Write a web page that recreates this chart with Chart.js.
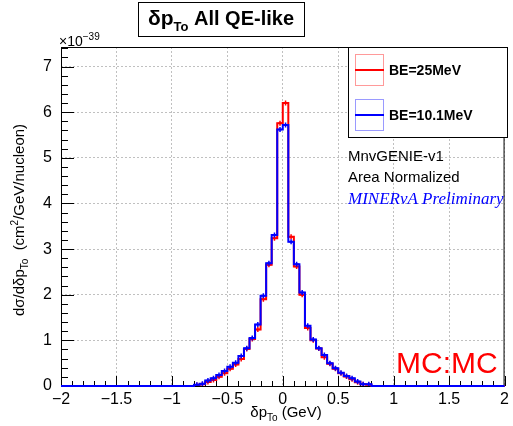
<!DOCTYPE html>
<html><head><meta charset="utf-8">
<script src="https://cdn.jsdelivr.net/npm/chart.js@4/dist/chart.umd.min.js"></script>
<style>html,body{margin:0;padding:0;background:#fff}#wrap{width:513px;height:426px;position:relative}</style>
</head><body><div id="wrap"><canvas id="c" width="513" height="426"></canvas></div>
<script>
// ---- data (area-normalized cross-section, units of 1e-39 cm^2/GeV/nucleon) ----
const binLow = -2, binWidth = 0.05, nBins = 80;
const xTicks = [-2, -1.5, -1, -0.5, 0, 0.5, 1, 1.5, 2];
const yTicks = [0, 1, 2, 3, 4, 5, 6, 7];
const seriesNames = ['BE=25MeV', 'BE=10.1MeV'];
const be25 = [
  0,0,0,0,0,0,0,0,0,0, 0,0,0,0,0,0,0,0,0,0, 0,0,0,0,
  0.02,0.04,0.09,0.13,0.20,0.28,0.38,0.47,0.59,0.81,1.03,1.24,1.90,2.66,3.24,5.76,
  6.20,3.27,2.62,2.00,1.27,1.00,0.82,0.63,0.49,0.38,0.28,0.21,0.15,0.08,0.04,0.03,
  0,0,0,0,0,0,0,0,0,0, 0,0,0,0,0,0,0,0,0,0, 0,0,0,0
];
const be101 = [
  0,0,0,0,0,0,0,0,0,0, 0,0,0,0,0,0,0,0,0,0, 0,0,0,0,
  0.03,0.05,0.12,0.17,0.24,0.33,0.42,0.51,0.66,0.83,1.05,1.35,1.98,2.69,3.31,5.62,
  5.72,3.16,2.67,2.05,1.32,1.02,0.83,0.68,0.50,0.39,0.29,0.22,0.17,0.10,0.04,0.04,
  0,0,0,0,0,0,0,0,0,0, 0,0,0,0,0,0,0,0,0,0, 0,0,0,0
];
const yMax = 7.43;

function stepData(vals) {
  const d = vals.map((v, i) => ({x: binLow + i * binWidth, y: v}));
  d.push({x: binLow + nBins * binWidth, y: vals[vals.length - 1]});
  return d;
}
function centerData(vals) {
  return vals.map((v, i) => ({x: binLow + (i + 0.5) * binWidth, y: v}));
}

const SANS = '"Liberation Sans", Arial, Helvetica, sans-serif';
const SERIF = '"Liberation Serif", "Times New Roman", serif';

function drawRich(ctx, parts, x, y, align) {
  // parts: [{t, size, bold, dy}]
  let w = 0;
  parts.forEach(p => { ctx.font = (p.bold ? 'bold ' : '') + p.size + 'px ' + SANS; p.w = ctx.measureText(p.t).width; w += p.w; });
  let cx = align === 'center' ? x - w / 2 : x;
  ctx.textBaseline = 'alphabetic';
  ctx.textAlign = 'left';
  parts.forEach(p => { ctx.font = (p.bold ? 'bold ' : '') + p.size + 'px ' + SANS; ctx.fillText(p.t, cx, y + (p.dy || 0)); cx += p.w; });
}

const rootPlugin = {
  id: 'rootDecor',
  beforeDatasetsDraw(chart) {
    const {ctx, chartArea: a, scales: {x, y}} = chart;
    ctx.save();
    ctx.strokeStyle = '#000';
    ctx.lineWidth = 1;
    ctx.strokeRect(a.left + 0.5, a.top + 0.5, a.right - a.left - 1, a.bottom - a.top);
    // x ticks (major 0.5, minor 0.1), pointing up
    ctx.beginPath();
    for (let k = -20; k <= 20; k++) {
      const v = k * 0.1;
      const px = Math.round(x.getPixelForValue(v)) + 0.5;
      const len = (k % 5 === 0) ? 10 : 5;
      ctx.moveTo(px, a.bottom);
      ctx.lineTo(px, a.bottom - len);
    }
    // y ticks (major 1, minor 0.2), pointing right
    for (let k = 0; k * 0.2 <= yMax + 1e-9; k++) {
      const v = k * 0.2;
      const py = Math.round(y.getPixelForValue(v)) + 0.5;
      const len = (k % 5 === 0) ? 13 : 7;
      ctx.moveTo(a.left, py);
      ctx.lineTo(a.left + len, py);
    }
    ctx.stroke();
    ctx.restore();
  },
  afterDatasetsDraw(chart) {
    const {ctx, chartArea: a} = chart;
    ctx.save();
    // legend box
    ctx.fillStyle = '#fff';
    ctx.fillRect(348, a.top, 159, 90);
    ctx.strokeStyle = '#000';
    ctx.lineWidth = 1;
    ctx.strokeRect(348.5, a.top + 0.5, 159, 90);
    const entries = [{c: '#ff0000', box: '#ff9a9a', yc: 70}, {c: '#0000ff', box: '#9a9aff', yc: 115}];
    entries.forEach((e, i) => {
      ctx.strokeStyle = e.box; ctx.lineWidth = 1;
      ctx.strokeRect(355.5, e.yc - 15.5, 28, 31);
      ctx.strokeStyle = e.c; ctx.lineWidth = 2;
      ctx.beginPath(); ctx.moveTo(355, e.yc); ctx.lineTo(384, e.yc); ctx.stroke();
      ctx.fillStyle = '#000';
      ctx.font = 'bold 14px ' + SANS;
      ctx.textBaseline = 'middle'; ctx.textAlign = 'left';
      ctx.fillText(seriesNames[i], 389, e.yc + 1);
    });
    // annotations
    ctx.fillStyle = '#000';
    ctx.font = '15px ' + SANS;
    ctx.textBaseline = 'middle';
    ctx.fillText('MnvGENIE-v1', 348, 157);
    ctx.fillText('Area Normalized', 348, 178);
    ctx.fillStyle = '#0000ff';
    ctx.font = 'italic 17px ' + SERIF;
    ctx.fillText('MINERνA Preliminary', 348, 200);
    ctx.fillStyle = '#ff0000';
    ctx.font = '30px ' + SANS;
    ctx.textBaseline = 'alphabetic';
    ctx.fillText('MC:MC', 396, 373);
    ctx.restore();
  },
  afterDraw(chart) {
    const {ctx} = chart;
    ctx.save();
    // title box
    ctx.fillStyle = '#fff';
    ctx.fillRect(138, 2, 166, 34);
    ctx.strokeStyle = '#000'; ctx.lineWidth = 1;
    ctx.strokeRect(138.5, 2.5, 166, 34);
    ctx.fillStyle = '#000';
    drawRich(ctx, [
      {t: 'δp', size: 21, bold: true},
      {t: 'To', size: 13, bold: true, dy: 6},
      {t: ' All QE-like', size: 20, bold: true}
    ], 221, 25, 'center');
    // exponent
    drawRich(ctx, [
      {t: '×10', size: 14},
      {t: '−39', size: 10, dy: -6}
    ], 59, 46, 'left');
    // x axis title
    drawRich(ctx, [
      {t: 'δp', size: 15},
      {t: 'To', size: 10, dy: 4},
      {t: ' (GeV)', size: 15}
    ], 286, 417, 'center');
    // y axis title (rotated)
    ctx.translate(24, 220);
    ctx.rotate(-Math.PI / 2);
    drawRich(ctx, [
      {t: 'dσ/dδp', size: 15},
      {t: 'To', size: 10, dy: 4},
      {t: '  (cm', size: 15},
      {t: '2', size: 10, dy: -6},
      {t: '/GeV/nucleon)', size: 15}
    ], 0, 0, 'center');
    ctx.restore();
  }
};

const crossRadius = ctx => (ctx.raw && ctx.raw.y > 0 ? 2.5 : 0);

new Chart(document.getElementById('c'), {
  type: 'line',
  data: {
    datasets: [
      {label: seriesNames[0], data: stepData(be25), stepped: true, borderColor: '#ff0000', borderWidth: 2, pointRadius: 0, fill: false, clip: false, order: 4},
      {label: seriesNames[0] + ' err', data: centerData(be25), showLine: false, pointStyle: 'cross', pointRadius: crossRadius, borderColor: '#ff0000', borderWidth: 1.5, order: 3},
      {label: seriesNames[1], data: stepData(be101), stepped: true, borderColor: '#0000ff', borderWidth: 2, pointRadius: 0, fill: false, clip: false, order: 2},
      {label: seriesNames[1] + ' err', data: centerData(be101), showLine: false, pointStyle: 'cross', pointRadius: crossRadius, borderColor: '#0000ff', borderWidth: 1.5, order: 1}
    ]
  },
  options: {
    responsive: false,
    animation: false,
    events: [],
    layout: {padding: {top: 47, right: 4, left: 0, bottom: 0}},
    plugins: {legend: {display: false}, tooltip: {enabled: false}},
    scales: {
      x: {
        type: 'linear', min: -2, max: 2,
        afterBuildTicks: s => { s.ticks = xTicks.map(v => ({value: v})); },
        afterFit: s => { s.height = 40; },
        ticks: {
          autoSkip: false, maxRotation: 0, padding: 4, color: '#000',
          font: {family: SANS, size: 16},
          callback: v => String(v).replace('-', '−')
        },
        grid: {color: '#c0c0c0', lineWidth: 1, drawTicks: false},
        border: {display: false, dash: [2, 2]}
      },
      y: {
        type: 'linear', min: 0, max: yMax,
        afterBuildTicks: s => { s.ticks = yTicks.map(v => ({value: v})); },
        afterFit: s => { s.width = 61; },
        ticks: {padding: 9, color: '#000', font: {family: SANS, size: 16}},
        grid: {color: '#c0c0c0', lineWidth: 1, drawTicks: false},
        border: {display: false, dash: [2, 2]}
      }
    }
  },
  plugins: [rootPlugin]
});
</script>
</body></html>
